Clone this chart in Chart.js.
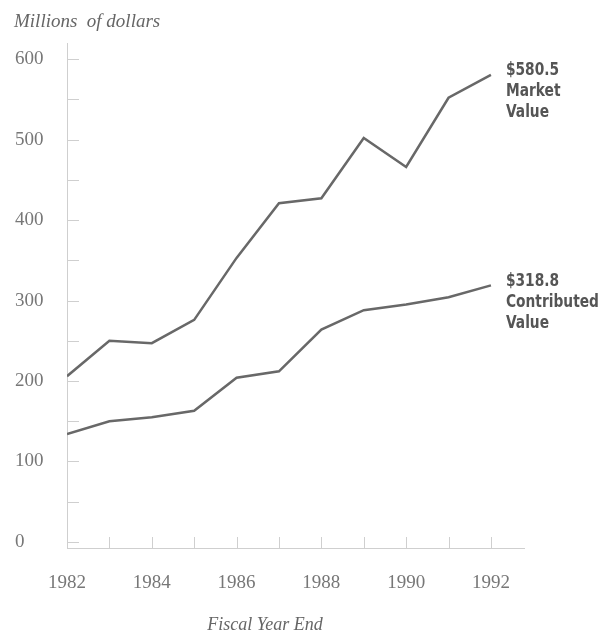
<!DOCTYPE html>
<html>
<head>
<meta charset="utf-8">
<script src="https://cdn.jsdelivr.net/npm/chart.js@4"></script>
<style>
  html, body { margin: 0; padding: 0; background: #fff; }
  #wrap { width: 603px; height: 634px; }
</style>
</head>
<body>
<div id="wrap"><canvas id="fund-chart" width="603" height="634"></canvas></div>
<script>
const years = [1982, 1983, 1984, 1985, 1986, 1987, 1988, 1989, 1990, 1991, 1992];
const marketValue = [206, 250, 247, 276, 353, 421, 427, 502, 466, 552, 580.5];
const contributedValue = [134, 150, 155, 163, 204, 212, 264, 288, 295, 304, 318.8];
const yTicks = [0, 50, 100, 150, 200, 250, 300, 350, 400, 450, 500, 550, 600];
const xLabelYears = [1982, 1984, 1986, 1988, 1990, 1992];
const endLabels = [
    ['$580.5', 'Market', 'Value'],
    ['$318.8', 'Contributed', 'Value']
];

const serif = '"Liberation Serif", "DejaVu Serif", serif';
const axisColor = '#cfcfcf';

// short tick marks drawn inward from both axes
const innerTicks = {
    id: 'innerTicks',
    afterDatasetsDraw(chart) {
        const ctx = chart.ctx;
        const x = chart.scales.x, y = chart.scales.y;
        ctx.save();
        ctx.strokeStyle = axisColor;
        ctx.lineWidth = 1;
        ctx.beginPath();
        yTicks.forEach(v => {
            const py = Math.round(y.getPixelForValue(v)) + 0.5;
            ctx.moveTo(x.left, py);
            ctx.lineTo(x.left + 12, py);
        });
        years.forEach((yr, i) => {
            if (i === 0) return;
            const px = Math.round(x.getPixelForValue(yr)) + 0.5;
            ctx.moveTo(px, y.bottom);
            ctx.lineTo(px, y.bottom - 11);
        });
        ctx.stroke();
        ctx.restore();
    }
};

const captions = {
    id: 'captions',
    afterDraw(chart) {
        const ctx = chart.ctx;
        ctx.save();
        ctx.fillStyle = '#666';
        ctx.textBaseline = 'middle';
        ctx.font = 'italic 19px ' + serif;
        ctx.textAlign = 'left';
        ctx.fillText('Millions  of dollars', 14, 22);
        ctx.font = 'italic 18px ' + serif;
        ctx.textAlign = 'center';
        ctx.fillText('Fiscal Year End', 265, 625);

        // end labels beside the last point of each line, squeezed to a condensed width
        ctx.fillStyle = '#555';
        ctx.font = 'bold 18px "DejaVu Sans", sans-serif';
        ctx.textAlign = 'left';
        const squeeze = 93 / ctx.measureText('Contributed').width;
        chart.data.datasets.forEach((ds, i) => {
            const meta = chart.getDatasetMeta(i);
            const last = meta.data[meta.data.length - 1];
            endLabels[i].forEach((line, j) => {
                ctx.save();
                ctx.translate(last.x + 15, last.y - 4 + j * 21);
                ctx.scale(squeeze, 1);
                ctx.fillText(line, 0, 0);
                ctx.restore();
            });
        });
        ctx.restore();
    }
};

new Chart(document.getElementById('fund-chart'), {
    type: 'line',
    data: {
        datasets: [
            {
                label: 'Market Value',
                data: years.map((yr, i) => ({ x: yr, y: marketValue[i] })),
                borderColor: '#686868',
                borderWidth: 2.5,
                pointRadius: 0,
                tension: 0
            },
            {
                label: 'Contributed Value',
                data: years.map((yr, i) => ({ x: yr, y: contributedValue[i] })),
                borderColor: '#686868',
                borderWidth: 2.5,
                pointRadius: 0,
                tension: 0
            }
        ]
    },
    options: {
        responsive: false,
        animation: false,
        layout: { padding: { left: 15, top: 43, right: 79, bottom: 0 } },
        plugins: {
            legend: { display: false },
            tooltip: { enabled: false }
        },
        scales: {
            x: {
                type: 'linear',
                min: 1982,
                max: 1992.78,
                afterBuildTicks: axis => { axis.ticks = years.map(v => ({ value: v })); },
                afterFit: axis => { axis.height = 86; },
                grid: { display: false, drawTicks: false, tickLength: 0 },
                border: { display: true, color: axisColor, width: 1 },
                ticks: {
                    autoSkip: false,
                    maxRotation: 0,
                    padding: 24,
                    color: '#777',
                    font: { family: serif, size: 19 },
                    callback: v => xLabelYears.includes(v) ? String(v) : ''
                }
            },
            y: {
                min: -7.5,
                max: 620,
                afterBuildTicks: axis => { axis.ticks = yTicks.map(v => ({ value: v })); },
                afterFit: axis => { axis.width = 52; },
                grid: { display: false, drawTicks: false, tickLength: 0 },
                border: { display: true, color: axisColor, width: 1 },
                ticks: {
                    autoSkip: false,
                    crossAlign: 'far',
                    padding: 0,
                    color: '#777',
                    font: { family: serif, size: 19 },
                    callback: v => v % 100 === 0 ? String(v) : ''
                }
            }
        }
    },
    plugins: [innerTicks, captions]
});
</script>
</body>
</html>
